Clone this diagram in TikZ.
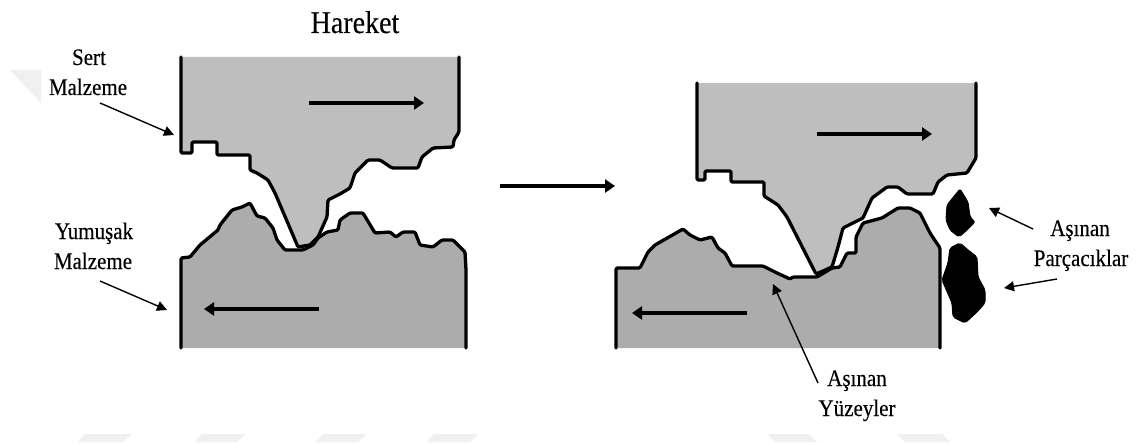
\documentclass[tikz,border=0pt]{standalone}
\usepackage{fontspec}
\setmainfont{Liberation Serif}[FakeBold=0.25]
\usetikzlibrary{arrows.meta}
\definecolor{hardgrey}{HTML}{BEBEBE}
\definecolor{softgrey}{HTML}{ACACAC}
\definecolor{paleshade}{HTML}{F0F0F0}
\tikzset{
  x=1pt,y=-1pt,
  hardfill/.style={fill=hardgrey,draw=none},
  softfill/.style={fill=softgrey,draw=none},
  shade mark/.style={fill=paleshade,draw=none},
  contour/.style={draw=black,line width=3.3pt,line join=round,line cap=round,rounded corners=1.2pt},
  motion/.style={draw=black,line width=4.2pt,-{Triangle[length=10pt,width=13pt]}},
  pointer/.style={draw=black,line width=1.4pt,-{Triangle[length=10pt,width=10pt]}},
  chip/.style={fill=black,draw=black,line width=1pt,line join=round,rounded corners=2pt},
  caption/.style={font=\fontsize{21}{22}\selectfont,inner sep=0pt,anchor=base},
}
\newcommand{\tall}[1]{\scalebox{1}[1.13]{#1}}
\begin{document}
\begin{tikzpicture}
\useasboundingbox (0,0) rectangle (1138,444);
\fill[white] (0,0) rectangle (1138,444);

% Pale marks in the page background
\fill[shade mark] (10,70) -- (41,70) -- (41,103) -- cycle;
\fill[shade mark] (78,442) -- (85,434) -- (132,434) -- (123,442) -- cycle;
\fill[shade mark] (195,442) -- (202,434) -- (245,434) -- (237,442) -- cycle;
\fill[shade mark] (316,442) -- (323,434) -- (367,434) -- (358,442) -- cycle;
\fill[shade mark] (427,442) -- (434,434) -- (478,434) -- (470,442) -- cycle;
\fill[shade mark] (767,434) -- (808,434) -- (817,442) -- (775,442) -- cycle;
\fill[shade mark] (897,434) -- (942,434) -- (950,442) -- (905,442) -- cycle;

% Left pair: hard body above, soft body below
\def\leftHard{(181,57) -- (181,153) -- (192,153) -- (192,142) -- (217,142) -- (217,155) -- (250,155) -- (250,170) -- (257,173) -- (268,180) -- (275,193) -- (298,247) -- (310,245) -- (318,237) -- (327,217) -- (328,200) -- (340,194) -- (350,188) -- (355,173) -- (368,160) -- (380,160) -- (392,168) -- (418,168) -- (422,157) -- (433,148) -- (453,147) -- (454,140) -- (459,132) -- (459,57)}
\def\leftSoft{(181,348) -- (181,258) -- (190,257) -- (200,245) -- (218,230) -- (220,225) -- (232,210) -- (242,207) -- (250,203) -- (257,216) -- (265,218) -- (273,228) -- (277,240) -- (285,250) -- (303,250) -- (313,245) -- (318,238) -- (327,232) -- (338,230) -- (340,220) -- (350,213) -- (363,213) -- (375,233) -- (390,232) -- (396,237) -- (403,232) -- (415,232) -- (420,245) -- (433,247) -- (442,240) -- (453,240) -- (465,252) -- (466,270) -- (466,348)}
\fill[softfill] \leftSoft -- cycle;
\fill[hardfill] \leftHard -- cycle;
\draw[contour] \leftSoft;
\draw[contour] \leftHard;

% Right pair: the same bodies after wear
\def\rightHard{(697,83) -- (697,180) -- (705,180) -- (705,171) -- (731,171) -- (731,182) -- (764,182) -- (764,196) -- (778,205) -- (787,217) -- (816,274) -- (832,267) -- (838,247) -- (843,228) -- (863,218) -- (872,198) -- (887,187) -- (898,187) -- (907,194) -- (933,194) -- (938,182) -- (947,175) -- (967,173) -- (976,158) -- (976,83)}
\def\rightSoft{(616,348) -- (616,268) -- (640,268) -- (648,252) -- (655,245) -- (683,229) -- (690,235) -- (700,240) -- (712,237) -- (718,248) -- (725,253) -- (732,266) -- (763,266) -- (777,273) -- (790,279) -- (793,277) -- (817,277) -- (832,268) -- (840,267) -- (847,253) -- (856,253) -- (856,237) -- (863,223) -- (882,218) -- (898,208) -- (910,208) -- (920,213) -- (930,233) -- (940,248) -- (940,348)}
\fill[softfill] \rightSoft -- cycle;
\fill[hardfill] \rightHard -- cycle;
\draw[contour] \rightSoft;
\draw[contour] \rightHard;

% Detached wear particles
\draw[chip] (960,189) -- (968,202) -- (970,217) -- (975,222) -- (967,230) -- (959,237) -- (950,230) -- (946,220) -- (947,205) -- cycle;
\draw[chip] (960,243) -- (968,250) -- (977,257) -- (978,277) -- (985,290) -- (985,303) -- (977,312) -- (965,323) -- (953,317) -- (952,303) -- (942,280) -- (948,263) -- (950,248) -- cycle;

% Captions, placed by their baselines
\node[caption,font=\fontsize{28}{30}\selectfont] (title) at (355,33) {\tall{Hareket}};
\node[caption] (sert) at (89,65) {\tall{Sert}};
\node[caption] (sertb) at (88,95) {\tall{Malzeme}};
\node[caption] (yum) at (94,239) {\tall{Yumuşak}};
\node[caption] (yumb) at (93,269) {\tall{Malzeme}};
\node[caption] (asp) at (1080,236) {\tall{Aşınan}};
\node[caption] (aspb) at (1081,266) {\tall{Parçacıklar}};
\node[caption] (asy) at (857,386) {\tall{Aşınan}};
\node[caption] (asyb) at (857,416) {\tall{Yüzeyler}};

% Direction-of-motion arrows
\coordinate (hlA) at (309,103); \coordinate (hlB) at (424,103);
\coordinate (slA) at (319,309); \coordinate (slB) at (204,309);
\coordinate (hrA) at (817,134); \coordinate (hrB) at (932,134);
\coordinate (srA) at (747,313); \coordinate (srB) at (632,313);
\coordinate (midA) at (500,186); \coordinate (midB) at (615,186);
\draw[motion] (hlA) -- (hlB);
\draw[motion] (slA) -- (slB);
\draw[motion] (hrA) -- (hrB);
\draw[motion] (srA) -- (srB);
\draw[motion] (midA) -- (midB);

% Pointers from the captions
\coordinate (p1a) at (100,103); \coordinate (p1b) at (174,135);
\coordinate (p2a) at (100,281); \coordinate (p2b) at (167,310);
\coordinate (p3a) at (1033,229); \coordinate (p3b) at (989,208);
\coordinate (p4a) at (1057,279); \coordinate (p4b) at (1004,288);
\coordinate (p5a) at (818,383); \coordinate (p5b) at (773,284);
\draw[pointer] (p1a) -- (p1b);
\draw[pointer] (p2a) -- (p2b);
\draw[pointer] (p3a) -- (p3b);
\draw[pointer] (p4a) -- (p4b);
\draw[pointer] (p5a) -- (p5b);
\end{tikzpicture}
\end{document}
